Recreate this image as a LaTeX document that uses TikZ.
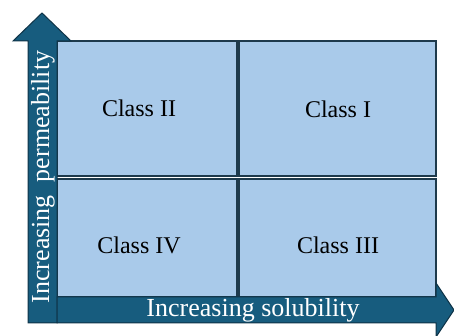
\documentclass[tikz,border=0pt]{standalone}
\usepackage{fontspec}
\setmainfont{Liberation Serif}
\definecolor{cellfill}{HTML}{A9CAEA}
\definecolor{celledge}{HTML}{1E3A4C}
\definecolor{arrowfill}{HTML}{175C7E}
\definecolor{arrowedge}{HTML}{0F3448}
\begin{document}
\begin{tikzpicture}[x=1pt,y=1pt,
  cell/.style={draw=celledge,line width=1.2pt,fill=cellfill},
  bigarrow/.style={draw=arrowedge,line width=1pt,fill=arrowfill},
  classlabel/.style={font=\fontsize{24}{24}\selectfont,text=black},
  axislabel/.style={font=\fontsize{26}{26}\selectfont,text=white}]
\useasboundingbox (0,0) rectangle (454,336);
% grid of four classes
\draw[cell] (57,160) rectangle (237,295);
\draw[cell] (239,160) rectangle (436,295);
\draw[cell] (57,39) rectangle (237,157);
\draw[cell] (239,39) rectangle (436,157);
% vertical axis arrow
\draw[bigarrow] (28,13) -- (28,295) -- (13,295) -- (42,323) -- (71,295) -- (57,295) -- (57,13) -- cycle;
% horizontal axis arrow
\draw[bigarrow] (57,13) -- (57,39) -- (436,39) -- (436,53) -- (454,26) -- (436,-1) -- (436,13) -- cycle;
\node[classlabel] (c2) at (139,228) {Class II};
\node[classlabel] (c1) at (338,227) {Class I};
\node[classlabel] (c4) at (139,91) {Class IV};
\node[classlabel] (c3) at (338,91) {Class III};
\node[axislabel,rotate=90] (ylab) at (43,159) {Increasing\ \ permeability};
\node[axislabel] (xlab) at (253,26) {Increasing solubility};
\end{tikzpicture}
\end{document}
